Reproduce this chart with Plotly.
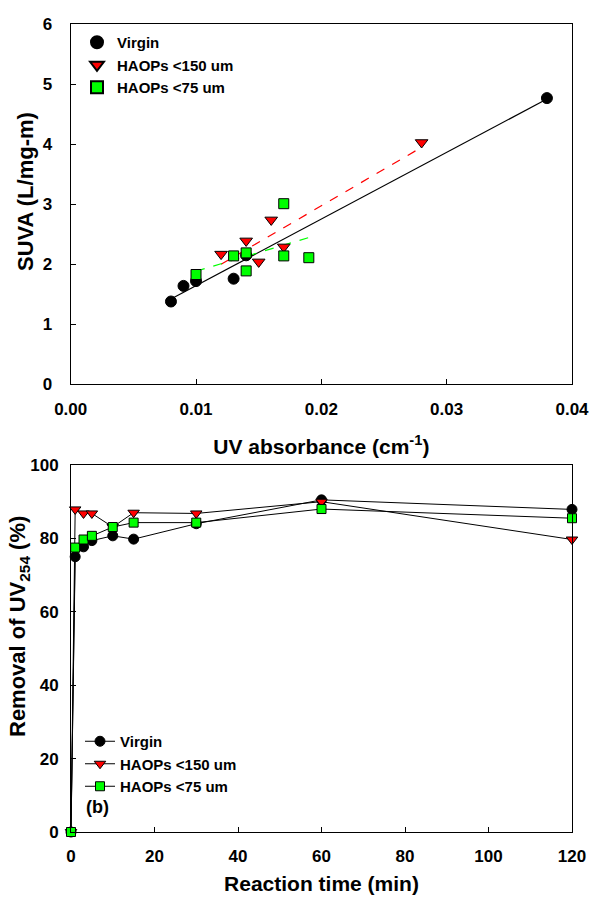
import numpy as np
import plotly.graph_objects as go

# ---- Panel (a) data: SUVA vs UV absorbance ----
virgin_uv = [0.008, 0.009, 0.010, 0.013, 0.014, 0.038]
virgin_suva = [1.38, 1.64, 1.72, 1.76, 2.15, 4.77]
h150_uv = [0.012, 0.014, 0.015, 0.016, 0.017, 0.028]
h150_suva = [2.17, 2.39, 2.04, 2.74, 2.29, 4.03]
h75_uv = [0.010, 0.013, 0.014, 0.014, 0.017, 0.017, 0.019]
h75_suva = [1.83, 2.14, 2.19, 1.89, 3.01, 2.14, 2.11]

# ---- Panel (b) data: removal of UV254 vs reaction time ----
time_min = [0, 1, 3, 5, 10, 15, 30, 60, 120]
virgin_rem = [0, 75.0, 77.7, 79.4, 80.7, 79.8, 84.0, 90.5, 87.9]
h150_rem = [0, 87.9, 86.8, 86.8, 83.1, 87.0, 86.8, 90.0, 79.7]
h75_rem = [0, 77.5, 79.7, 80.7, 83.1, 84.3, 84.3, 88.0, 85.5]

series_names = ["Virgin", "HAOPs <150 um", "HAOPs <75 um"]
FONT = "Liberation Sans, Arial, sans-serif"
RED = "#ff0000"
GREEN = "#00ff00"

fig = go.Figure()

def fit_line(x, y):
    k, b = np.polyfit(x, y, 1)
    xs = np.array([min(x), max(x)])
    return xs, k * xs + b

# regression lines (panel a)
for (x, y, col, dash) in [(virgin_uv, virgin_suva, "black", "solid"),
                          (h150_uv, h150_suva, RED, "dash"),
                          (h75_uv, h75_suva, GREEN, "dash")]:
    xs, ys = fit_line(x, y)
    fig.add_trace(go.Scatter(x=xs, y=ys, mode="lines", showlegend=False,
                             line=dict(color=col, width=1.2, dash=dash),
                             xaxis="x", yaxis="y", hoverinfo="skip"))

# scatter markers (panel a)
mk_line = dict(color="black", width=1)
fig.add_trace(go.Scatter(x=virgin_uv, y=virgin_suva, mode="markers", name=series_names[0],
                         marker=dict(symbol="circle", size=11, color="black", line=mk_line),
                         xaxis="x", yaxis="y", legend="legend", cliponaxis=False))
fig.add_trace(go.Scatter(x=h150_uv, y=h150_suva, mode="markers", name=series_names[1],
                         marker=dict(symbol="triangle-down", size=11, color=RED, line=mk_line),
                         xaxis="x", yaxis="y", legend="legend", cliponaxis=False))
fig.add_trace(go.Scatter(x=h75_uv, y=h75_suva, mode="markers", name=series_names[2],
                         marker=dict(symbol="square", size=10, color=GREEN, line=mk_line),
                         xaxis="x", yaxis="y", legend="legend", cliponaxis=False))

# panel b
for y, sym, col, size, nm in [(virgin_rem, "circle", "black", 10, series_names[0]),
                              (h150_rem, "triangle-down", RED, 10, series_names[1]),
                              (h75_rem, "square", GREEN, 9, series_names[2])]:
    fig.add_trace(go.Scatter(x=time_min, y=y, mode="lines+markers", name=nm,
                             line=dict(color="black", width=1),
                             marker=dict(symbol=sym, size=size, color=col, line=mk_line),
                             xaxis="x2", yaxis="y2", legend="legend2", cliponaxis=False))

W, H = 593, 897
def px_x(p):
    return p / W
def px_y(p):
    return 1 - p / H

tickfont = dict(family=FONT, size=17, color="black", weight="bold")
titlefont = dict(family=FONT, size=21, color="black", weight="bold")
ytitlefont = dict(family=FONT, size=22, color="black", weight="bold")
legfont = dict(family=FONT, size=15, color="black", weight="bold")
axis_common = dict(showline=True, linecolor="black", linewidth=1, mirror=True,
                   ticks="inside", ticklen=5, tickcolor="black", showgrid=False,
                   zeroline=False, tickfont=tickfont, automargin=False)

fig.update_layout(
    width=W, height=H,
    margin=dict(l=0, r=0, t=0, b=0),
    paper_bgcolor="white", plot_bgcolor="white",
    font=dict(family=FONT, color="black"),
    xaxis=dict(domain=[px_x(70.7), px_x(572)], range=[0, 0.04], dtick=0.01,
               tickformat=".2f", anchor="y", ticklabelstandoff=9,
               title=dict(text="UV absorbance (cm<sup>-1</sup>)", font=titlefont, standoff=21),
               **axis_common),
    yaxis=dict(domain=[px_y(384.3), px_y(24.3)], range=[0, 6], dtick=1, anchor="x",
               ticklabelstandoff=14, **axis_common),
    xaxis2=dict(domain=[px_x(71), px_x(572)], range=[0, 120], dtick=20, anchor="y2",
                ticklabelstandoff=9,
                title=dict(text="Reaction time (min)", font=titlefont, standoff=10),
                **axis_common),
    yaxis2=dict(domain=[px_y(832), px_y(465)], range=[0, 100], dtick=20, anchor="x2",
                ticklabelstandoff=8, **axis_common),
    legend=dict(x=px_x(77), y=px_y(26), xanchor="left", yanchor="top",
                bgcolor="rgba(0,0,0,0)", font=legfont, itemsizing="constant"),
    legend2=dict(x=px_x(80), y=px_y(725), xanchor="left", yanchor="top",
                 bgcolor="rgba(0,0,0,0)", font=legfont),
    annotations=[
        dict(text="SUVA (L/mg-m)", xref="paper", yref="paper", x=px_x(26), y=px_y(192),
             xanchor="center", yanchor="middle", textangle=-90, showarrow=False,
             font=ytitlefont),
        dict(text="Removal of UV<sub>254</sub> (%)", xref="paper", yref="paper",
             x=px_x(19), y=px_y(627), xanchor="center", yanchor="middle", textangle=-90,
             showarrow=False, font=ytitlefont),
        dict(text="(b)", xref="paper", yref="paper", x=px_x(84), y=px_y(807),
             xanchor="left", yanchor="middle", showarrow=False,
             font=dict(family=FONT, size=18, weight="bold", color="black")),
    ],
)

fig.write_html("out.html")
